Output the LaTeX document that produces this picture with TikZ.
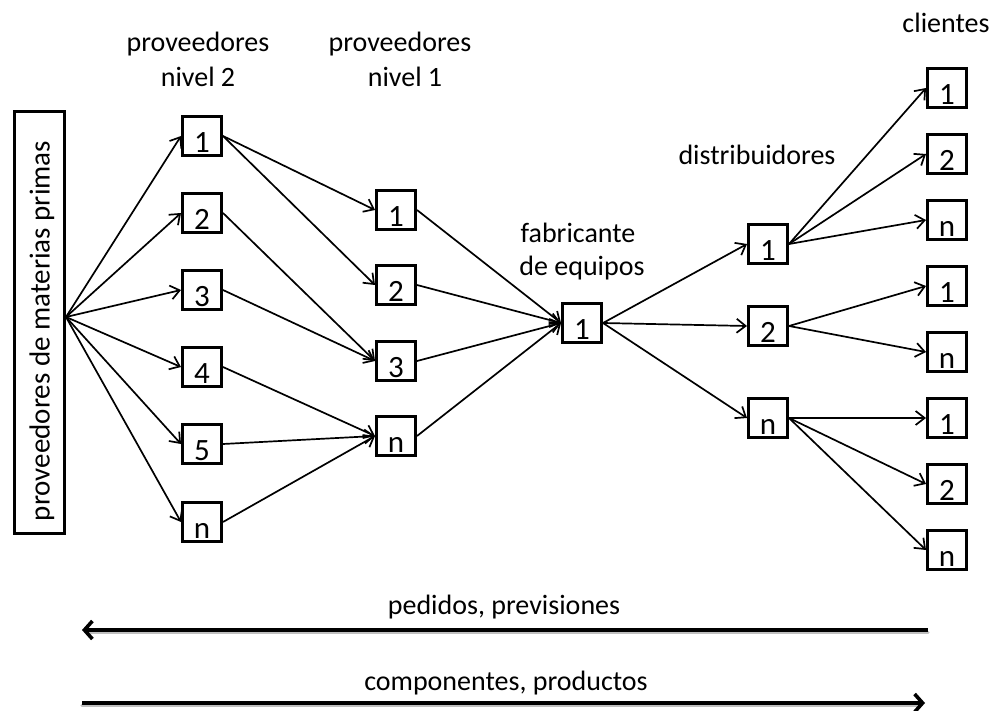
\documentclass[tikz,border=0pt]{standalone}
\usepackage{fontspec}
\setmainfont{Carlito}
\usetikzlibrary{arrows.meta}

\tikzset{
  lbl/.style={inner sep=0pt, anchor=base, font=\fontsize{28}{34}\selectfont},
  box/.style={draw, line width=3pt, minimum width=39pt, minimum height=39pt,
    inner sep=0pt, text height=33pt, text depth=0pt,
    font=\fontsize{31}{36}\selectfont},
  tallbox/.style={draw, line width=3pt, minimum width=50pt, minimum height=422pt,
    inner sep=0pt},
  arr/.style={line width=1.7pt, -{Straight Barb[length=9pt,width=14pt,line width=1.7pt]}},
  flow/.style={line width=3.6pt, -{Straight Barb[length=8pt,width=18pt,line width=3.6pt]}},
  flowshadow/.style={line width=3.4pt, black!25, line cap=round},
}

\begin{document}
\begin{tikzpicture}[x=1pt, y=-1pt]
  \useasboundingbox (0,0) rectangle (995,711);

  % raw material suppliers
  \node[tallbox] (pm) at (39.5,322.5) {};
  \node[rotate=90, inner sep=0pt, font=\fontsize{29}{34}\selectfont] (pmtext) at (42,331)
    {proveedores de materias primas};
  \coordinate (fan) at ([yshift=5.5pt]pm.east);

  % column headings
  \node[lbl] (h2a) at (198,52) {proveedores};
  \node[lbl] (h2b) at (198,87) {nivel 2};
  \node[lbl] (h1a) at (400,52) {proveedores};
  \node[lbl] (h1b) at (405,87) {nivel 1};
  \node[lbl] (hfa) at (578,243) {fabricante};
  \node[lbl] (hfb) at (582,275) {de equipos};
  \node[lbl] (hd) at (757,165) {distribuidores};
  \node[lbl] (hc) at (946,33) {clientes};

  % tier-2 suppliers
  \node[box] (a1) at (202,136) {1};
  \node[box] (a2) at (202,213) {2};
  \node[box] (a3) at (202,290) {3};
  \node[box] (a4) at (202,367) {4};
  \node[box] (a5) at (202,444) {5};
  \node[box] (an) at (202,522) {n};

  % tier-1 suppliers
  \node[box] (b1) at (396,210) {1};
  \node[box] (b2) at (396,285) {2};
  \node[box] (b3) at (396,361) {3};
  \node[box] (bn) at (396,436) {n};

  % equipment manufacturer
  \node[box] (f1) at (582,323) {1};

  % distributors
  \node[box] (d1) at (768,244) {1};
  \node[box] (d2) at (768,326) {2};
  \node[box] (dn) at (768,418) {n};

  % customers
  \node[box] (c11) at (947,88) {1};
  \node[box] (c12) at (947,154) {2};
  \node[box] (c1n) at (947,220) {n};
  \node[box] (c21) at (947,286) {1};
  \node[box] (c2n) at (947,352) {n};
  \node[box] (c31) at (947,418) {1};
  \node[box] (c32) at (947,484) {2};
  \node[box] (c3n) at (947,550) {n};

  % supply links
  \foreach \t in {a1,a2,a3,a4,a5,an}
    \draw[arr] (fan) -- (\t.west);
  \draw[arr] (a1.east) -- (b1.west);
  \draw[arr] (a1.east) -- (b2.west);
  \draw[arr] (a2.east) -- (b3.west);
  \draw[arr] (a3.east) -- (b3.west);
  \draw[arr] (a4.east) -- (bn.west);
  \draw[arr] (a5.east) -- (bn.west);
  \draw[arr] (an.east) -- (bn.west);
  \foreach \s in {b1,b2,b3,bn}
    \draw[arr] (\s.east) -- (f1.west);
  \foreach \t in {d1,d2,dn}
    \draw[arr] (f1.east) -- (\t.west);
  \foreach \t in {c11,c12,c1n}
    \draw[arr] (d1.east) -- (\t.west);
  \foreach \t in {c21,c2n}
    \draw[arr] (d2.east) -- (\t.west);
  \foreach \t in {c31,c32,c3n}
    \draw[arr] (dn.east) -- (\t.west);

  % information and material flows
  \coordinate (pr) at (928,630);
  \coordinate (pl) at (82,630);
  \coordinate (cl) at (82,703);
  \coordinate (cr) at (925,703);
  \draw[flowshadow] ([yshift=-2.5pt]pr) -- ([yshift=-2.5pt,xshift=6pt]pl);
  \draw[flowshadow] ([yshift=-2.5pt]cl) -- ([yshift=-2.5pt,xshift=-6pt]cr);
  \draw[flow] (pr) -- (pl);
  \draw[flow] (cl) -- (cr);
  \node[lbl] (tp) at (504,614) {pedidos, previsiones};
  \node[lbl] (tc) at (506,690) {componentes, productos};
\end{tikzpicture}
\end{document}
